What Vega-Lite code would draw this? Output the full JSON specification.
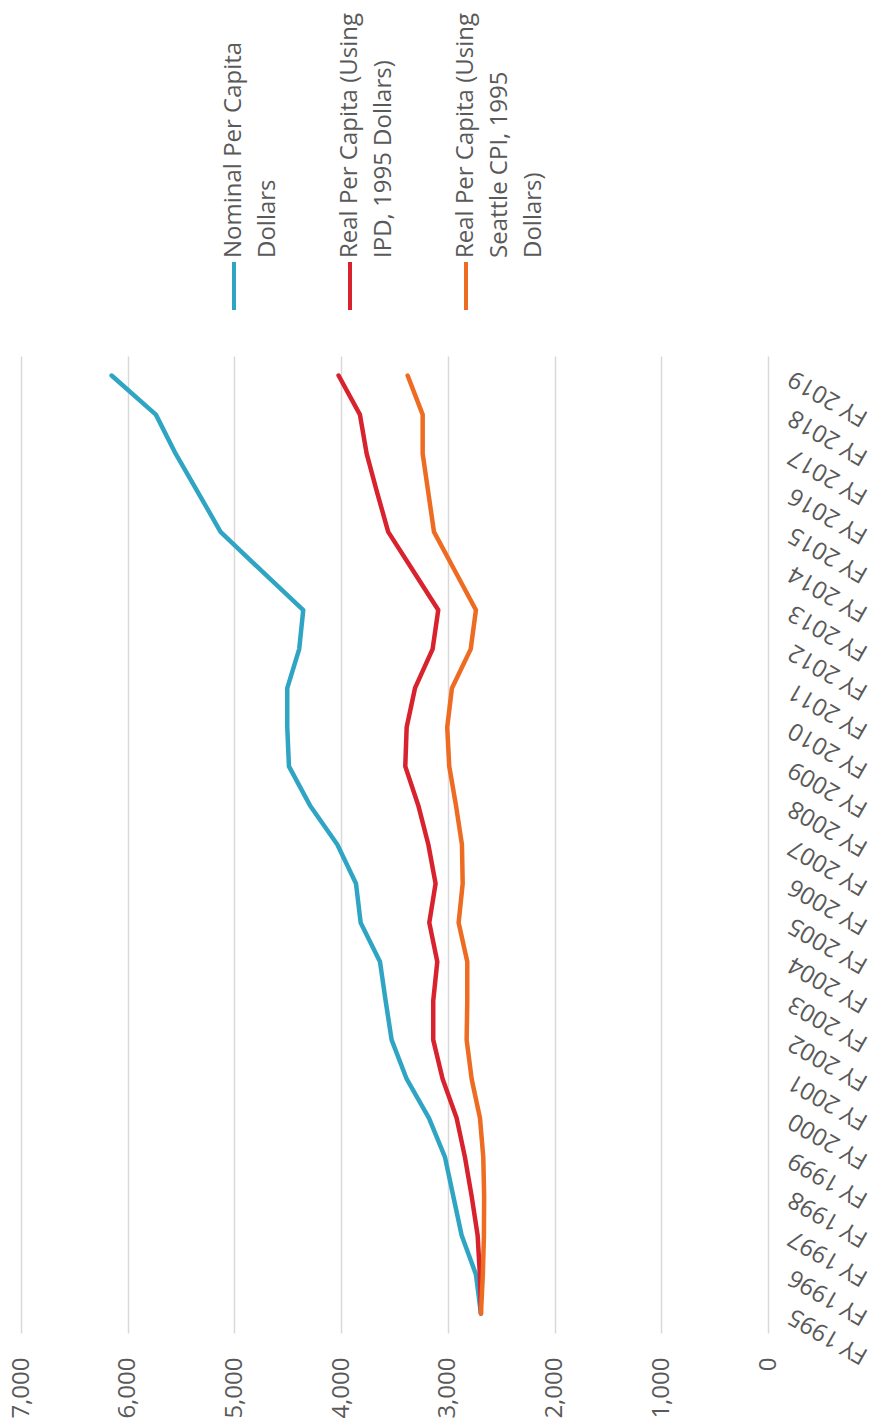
{
  "$schema": "https://vega.github.io/schema/vega-lite/v6.json",
  "background": "white",
  "padding": {"left": 9, "top": 0, "right": 0, "bottom": 0},
  "spacing": 38,
  "config": {
    "view": {"stroke": null},
    "axis": {"labelFont": "Open Sans", "labelFontSize": 24, "labelColor": "#595959"}
  },
  "datasets": {
    "legendItems": [
      {"series": "Nominal", "label": "Nominal Per Capita\nDollars"},
      {"series": "Real IPD", "label": "Real Per Capita (Using\nIPD, 1995 Dollars)"},
      {"series": "Real Seattle CPI", "label": "Real Per Capita (Using\nSeattle CPI, 1995\nDollars)"}
    ],
    "spending": [
      {"fy": "FY 1995", "series": "Nominal", "value": 2690},
      {"fy": "FY 1996", "series": "Nominal", "value": 2737},
      {"fy": "FY 1997", "series": "Nominal", "value": 2871},
      {"fy": "FY 1998", "series": "Nominal", "value": 2949},
      {"fy": "FY 1999", "series": "Nominal", "value": 3027},
      {"fy": "FY 2000", "series": "Nominal", "value": 3177},
      {"fy": "FY 2001", "series": "Nominal", "value": 3386},
      {"fy": "FY 2002", "series": "Nominal", "value": 3527},
      {"fy": "FY 2003", "series": "Nominal", "value": 3583},
      {"fy": "FY 2004", "series": "Nominal", "value": 3636},
      {"fy": "FY 2005", "series": "Nominal", "value": 3817},
      {"fy": "FY 2006", "series": "Nominal", "value": 3861},
      {"fy": "FY 2007", "series": "Nominal", "value": 4036},
      {"fy": "FY 2008", "series": "Nominal", "value": 4292},
      {"fy": "FY 2009", "series": "Nominal", "value": 4489},
      {"fy": "FY 2010", "series": "Nominal", "value": 4505},
      {"fy": "FY 2011", "series": "Nominal", "value": 4505},
      {"fy": "FY 2012", "series": "Nominal", "value": 4393},
      {"fy": "FY 2013", "series": "Nominal", "value": 4355},
      {"fy": "FY 2014", "series": "Nominal", "value": 4745},
      {"fy": "FY 2015", "series": "Nominal", "value": 5130},
      {"fy": "FY 2016", "series": "Nominal", "value": 5339},
      {"fy": "FY 2017", "series": "Nominal", "value": 5551},
      {"fy": "FY 2018", "series": "Nominal", "value": 5736},
      {"fy": "FY 2019", "series": "Nominal", "value": 6151},
      {"fy": "FY 1995", "series": "Real IPD", "value": 2690},
      {"fy": "FY 1996", "series": "Real IPD", "value": 2700},
      {"fy": "FY 1997", "series": "Real IPD", "value": 2721},
      {"fy": "FY 1998", "series": "Real IPD", "value": 2777},
      {"fy": "FY 1999", "series": "Real IPD", "value": 2840},
      {"fy": "FY 2000", "series": "Real IPD", "value": 2918},
      {"fy": "FY 2001", "series": "Real IPD", "value": 3049},
      {"fy": "FY 2002", "series": "Real IPD", "value": 3137},
      {"fy": "FY 2003", "series": "Real IPD", "value": 3137},
      {"fy": "FY 2004", "series": "Real IPD", "value": 3099},
      {"fy": "FY 2005", "series": "Real IPD", "value": 3174},
      {"fy": "FY 2006", "series": "Real IPD", "value": 3115},
      {"fy": "FY 2007", "series": "Real IPD", "value": 3183},
      {"fy": "FY 2008", "series": "Real IPD", "value": 3277},
      {"fy": "FY 2009", "series": "Real IPD", "value": 3399},
      {"fy": "FY 2010", "series": "Real IPD", "value": 3386},
      {"fy": "FY 2011", "series": "Real IPD", "value": 3308},
      {"fy": "FY 2012", "series": "Real IPD", "value": 3143},
      {"fy": "FY 2013", "series": "Real IPD", "value": 3090},
      {"fy": "FY 2014", "series": "Real IPD", "value": 3324},
      {"fy": "FY 2015", "series": "Real IPD", "value": 3559},
      {"fy": "FY 2016", "series": "Real IPD", "value": 3662},
      {"fy": "FY 2017", "series": "Real IPD", "value": 3761},
      {"fy": "FY 2018", "series": "Real IPD", "value": 3824},
      {"fy": "FY 2019", "series": "Real IPD", "value": 4024},
      {"fy": "FY 1995", "series": "Real Seattle CPI", "value": 2690},
      {"fy": "FY 1996", "series": "Real Seattle CPI", "value": 2672},
      {"fy": "FY 1997", "series": "Real Seattle CPI", "value": 2662},
      {"fy": "FY 1998", "series": "Real Seattle CPI", "value": 2660},
      {"fy": "FY 1999", "series": "Real Seattle CPI", "value": 2668},
      {"fy": "FY 2000", "series": "Real Seattle CPI", "value": 2699},
      {"fy": "FY 2001", "series": "Real Seattle CPI", "value": 2777},
      {"fy": "FY 2002", "series": "Real Seattle CPI", "value": 2824},
      {"fy": "FY 2003", "series": "Real Seattle CPI", "value": 2818},
      {"fy": "FY 2004", "series": "Real Seattle CPI", "value": 2818},
      {"fy": "FY 2005", "series": "Real Seattle CPI", "value": 2899},
      {"fy": "FY 2006", "series": "Real Seattle CPI", "value": 2861},
      {"fy": "FY 2007", "series": "Real Seattle CPI", "value": 2868},
      {"fy": "FY 2008", "series": "Real Seattle CPI", "value": 2924},
      {"fy": "FY 2009", "series": "Real Seattle CPI", "value": 2987},
      {"fy": "FY 2010", "series": "Real Seattle CPI", "value": 3006},
      {"fy": "FY 2011", "series": "Real Seattle CPI", "value": 2962},
      {"fy": "FY 2012", "series": "Real Seattle CPI", "value": 2786},
      {"fy": "FY 2013", "series": "Real Seattle CPI", "value": 2737},
      {"fy": "FY 2014", "series": "Real Seattle CPI", "value": 2933},
      {"fy": "FY 2015", "series": "Real Seattle CPI", "value": 3130},
      {"fy": "FY 2016", "series": "Real Seattle CPI", "value": 3183},
      {"fy": "FY 2017", "series": "Real Seattle CPI", "value": 3236},
      {"fy": "FY 2018", "series": "Real Seattle CPI", "value": 3236},
      {"fy": "FY 2019", "series": "Real Seattle CPI", "value": 3377}
    ]
  },
  "vconcat": [
    {
      "width": 747,
      "height": 316,
      "data": {"name": "legendItems"},
      "layer": [
        {
          "mark": {"type": "text", "angle": 270, "align": "left", "baseline": "middle", "lineBreak": "\n", "lineHeight": 34, "font": "Open Sans", "fontSize": 24, "color": "#595959", "yOffset": 100},
          "encoding": {
            "x": {"field": "series", "type": "nominal", "scale": {"type": "point", "domain": ["Nominal", "Real IPD", "Real Seattle CPI"], "range": [213, 445], "padding": 0}, "axis": null},
            "text": {"field": "label"}
          }
        },
        {
          "mark": {"type": "point", "shape": "M0,-1L0,1", "size": 2304, "filled": false, "strokeWidth": 4, "opacity": 1, "yOffset": 128},
          "encoding": {
            "x": {"field": "series", "type": "nominal", "scale": {"type": "point", "domain": ["Nominal", "Real IPD", "Real Seattle CPI"], "range": [213, 445], "padding": 0}, "axis": null},
            "color": {"field": "series", "type": "nominal", "scale": {"domain": ["Nominal", "Real IPD", "Real Seattle CPI"], "range": ["#2fa5c3", "#d8232e", "#ee6b22"]}, "legend": null}
          }
        }
      ]
    },
    {
      "width": 747,
      "height": 977,
      "data": {"name": "spending"},
      "mark": {"type": "line", "strokeWidth": 4.5, "strokeCap": "round", "strokeJoin": "round"},
      "encoding": {
        "y": {
          "field": "fy", "type": "ordinal", "sort": "descending",
          "scale": {"type": "point", "padding": 0.5},
          "axis": {"orient": "right", "title": null, "labelAngle": 210, "labelAlign": "right", "labelBaseline": "middle", "labelPadding": 22, "ticks": false, "tickSize": 0, "domain": false, "grid": false}
        },
        "x": {
          "field": "value", "type": "quantitative",
          "scale": {"domain": [0, 7000], "reverse": true, "nice": false},
          "axis": {"orient": "bottom", "title": null, "values": [0, 1000, 2000, 3000, 4000, 5000, 6000, 7000], "format": ",.0f", "labelAngle": 270, "labelPadding": 24, "ticks": false, "tickSize": 0, "domain": false, "grid": true, "gridColor": "#d9d9d9", "gridWidth": 1.5}
        },
        "order": {"field": "fy", "type": "ordinal"},
        "color": {"field": "series", "type": "nominal", "scale": {"domain": ["Nominal", "Real IPD", "Real Seattle CPI"], "range": ["#2fa5c3", "#d8232e", "#ee6b22"]}, "legend": null}
      }
    }
  ]
}
